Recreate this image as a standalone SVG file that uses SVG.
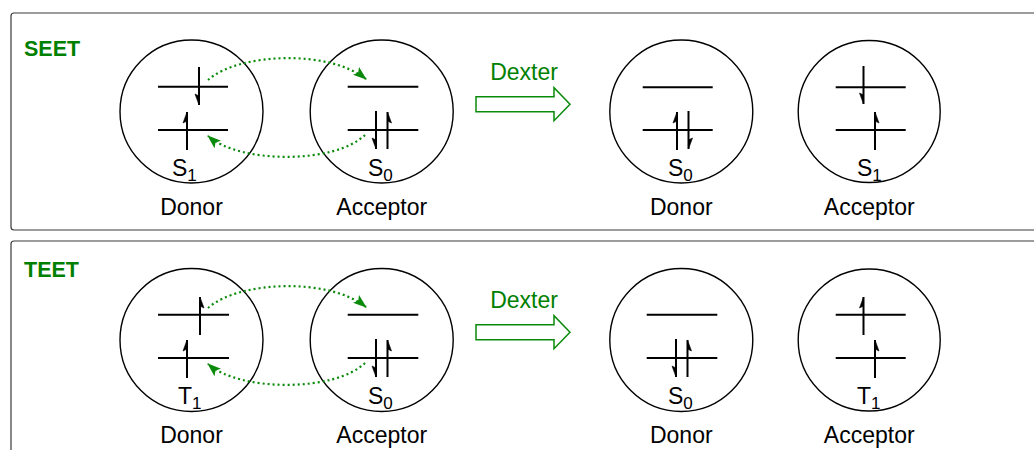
<svg xmlns="http://www.w3.org/2000/svg" width="1034" height="450" viewBox="0 0 1034 450">
  <style>
    .panel { fill: #ffffff; stroke: #3a3a3a; stroke-width: 1.2; }
    .circ { fill: none; stroke: #000; stroke-width: 1.4; }
    .lvl { stroke: #000; stroke-width: 2; fill: none; }
    .el { stroke: #000; stroke-width: 2; fill: none; }
    .hd { fill: #000; stroke: #000; stroke-width: 0.6; }
    .lbl { font-family: "Liberation Sans", Arial, sans-serif; font-size: 23px; fill: #000; }
    .st { font-family: "Liberation Sans", Arial, sans-serif; font-size: 23px; fill: #000; }
    .sub { font-size: 17px; }
    .ttl { font-family: "Liberation Sans", Arial, sans-serif; font-size: 21.5px; font-weight: bold; fill: #008000; }
    .dx { font-family: "Liberation Sans", Arial, sans-serif; font-size: 23px; fill: #008000; }
    .dot { fill: none; stroke: #0a8a0a; stroke-width: 2.2; stroke-dasharray: 2 3; }
    .blk { fill: #ffffff; stroke: #0a8a0a; stroke-width: 1.5; }
  </style>
  <defs>
    <marker id="ga" viewBox="0 0 14 10" refX="13" refY="5" markerWidth="14" markerHeight="10" markerUnits="userSpaceOnUse" orient="auto">
      <path d="M0,0 L14,5 L0,10 L3,5 Z" fill="#0a8a0a"/>
    </marker>
  </defs>

  <!-- panels -->
  <rect class="panel" x="11" y="13" width="1040" height="217" rx="3"/>
  <rect class="panel" x="11" y="241" width="1040" height="230" rx="3"/>
  <text class="ttl" x="24" y="56">SEET</text>
  <text class="ttl" x="24" y="277">TEET</text>

  <!-- ROW 1 : SEET -->
  <g id="seet-donor">
    <circle class="circ" cx="191.5" cy="111.5" r="71.5"/>
    <path class="lvl" d="M158,86.7 H228 M158,130 H228"/>
    <path class="el" d="M199,67 V105 M187,150 V112"/>
    <path class="hd" d="M199,105 L195,94 L199,96 Z M187,112 L183,123 L187,121 Z"/>
    <text class="st" x="172" y="176">S<tspan class="sub" dy="5">1</tspan></text>
    <text class="lbl" x="191.5" y="215" text-anchor="middle">Donor</text>
  </g>
  <g id="seet-acceptor">
    <circle class="circ" cx="381.7" cy="111.5" r="71.5"/>
    <path class="lvl" d="M347.7,86.7 H418.3 M347.7,130 H418.3"/>
    <path class="el" d="M376,111 V149 M387.5,149 V112"/>
    <path class="hd" d="M376,149 L372,138 L376,140 Z M387.5,112 L391.5,123 L387.5,121 Z"/>
    <text class="st" x="368" y="176">S<tspan class="sub" dy="5">0</tspan></text>
    <text class="lbl" x="381.7" y="215" text-anchor="middle">Acceptor</text>
  </g>
  <g id="seet-donor-after">
    <circle class="circ" cx="681.3" cy="111.5" r="71.5"/>
    <path class="lvl" d="M642.7,87.3 H712.7 M642.7,130 H712.7"/>
    <path class="el" d="M677,150 V112 M688.5,111 V149"/>
    <path class="hd" d="M677,112 L673,123 L677,121 Z M688.5,149 L692.5,138 L688.5,140 Z"/>
    <text class="st" x="668" y="176">S<tspan class="sub" dy="5">0</tspan></text>
    <text class="lbl" x="681.3" y="215" text-anchor="middle">Donor</text>
  </g>
  <g id="seet-acceptor-after">
    <circle class="circ" cx="869.2" cy="111.5" r="71"/>
    <path class="lvl" d="M835.7,87.3 H905.7 M835.7,130 H905.7"/>
    <path class="el" d="M863.5,66 V104 M875,150 V112"/>
    <path class="hd" d="M863.5,104 L859.5,93 L863.5,95 Z M875,112 L879,123 L875,121 Z"/>
    <text class="st" x="857" y="176">S<tspan class="sub" dy="5">1</tspan></text>
    <text class="lbl" x="869.2" y="215" text-anchor="middle">Acceptor</text>
  </g>

  <!-- ROW 2 : TEET -->
  <g id="teet-donor">
    <circle class="circ" cx="191.5" cy="340" r="71.5"/>
    <path class="lvl" d="M158,314.7 H229 M158,358 H229"/>
    <path class="el" d="M200,335 V297 M187,378 V340"/>
    <path class="hd" d="M200,297 L204,308 L200,306 Z M187,340 L183,351 L187,349 Z"/>
    <text class="st" x="178" y="404">T<tspan class="sub" dy="5">1</tspan></text>
    <text class="lbl" x="191.5" y="443" text-anchor="middle">Donor</text>
  </g>
  <g id="teet-acceptor">
    <circle class="circ" cx="381.7" cy="340" r="71.5"/>
    <path class="lvl" d="M347.7,314.7 H418.3 M347.7,358 H418.3"/>
    <path class="el" d="M376,339 V377 M387.5,377 V340"/>
    <path class="hd" d="M376,377 L372,366 L376,368 Z M387.5,340 L391.5,351 L387.5,349 Z"/>
    <text class="st" x="368" y="404">S<tspan class="sub" dy="5">0</tspan></text>
    <text class="lbl" x="381.7" y="443" text-anchor="middle">Acceptor</text>
  </g>
  <g id="teet-donor-after">
    <circle class="circ" cx="681.3" cy="340" r="71.5"/>
    <path class="lvl" d="M646.7,314.7 H717.3 M646.7,358 H717.3"/>
    <path class="el" d="M676,339 V377 M687.5,377 V340"/>
    <path class="hd" d="M676,377 L672,366 L676,368 Z M687.5,340 L691.5,351 L687.5,349 Z"/>
    <text class="st" x="668" y="404">S<tspan class="sub" dy="5">0</tspan></text>
    <text class="lbl" x="681.3" y="443" text-anchor="middle">Donor</text>
  </g>
  <g id="teet-acceptor-after">
    <circle class="circ" cx="869.2" cy="340" r="71"/>
    <path class="lvl" d="M835.7,314.7 H905.7 M835.7,358 H905.7"/>
    <path class="el" d="M863.5,335 V297 M875,378 V340"/>
    <path class="hd" d="M863.5,297 L859.5,308 L863.5,306 Z M875,340 L879,351 L875,349 Z"/>
    <text class="st" x="857" y="404">T<tspan class="sub" dy="5">1</tspan></text>
    <text class="lbl" x="869.2" y="443" text-anchor="middle">Acceptor</text>
  </g>

  <!-- connectors -->
  <g id="connectors">
    <path class="dot" d="M208,80 C240,52 330,50 366,79" marker-end="url(#ga)"/>
    <path class="dot" d="M365,135 C335,164 240,164 208,136" marker-end="url(#ga)"/>
    <path class="dot" d="M208,308 C240,280 330,278 366,307" marker-end="url(#ga)"/>
    <path class="dot" d="M365,363 C335,392 240,392 208,364" marker-end="url(#ga)"/>
    <text class="dx" x="524" y="80" text-anchor="middle">Dexter</text>
    <polygon class="blk" points="476,96.7 554,96.7 554,87.7 570,104.3 554,120.7 554,111.7 476,111.7"/>
    <text class="dx" x="524" y="308" text-anchor="middle">Dexter</text>
    <polygon class="blk" points="476,324.7 554,324.7 554,315.7 570,332.3 554,348.7 554,339.7 476,339.7"/>
  </g>
</svg>
